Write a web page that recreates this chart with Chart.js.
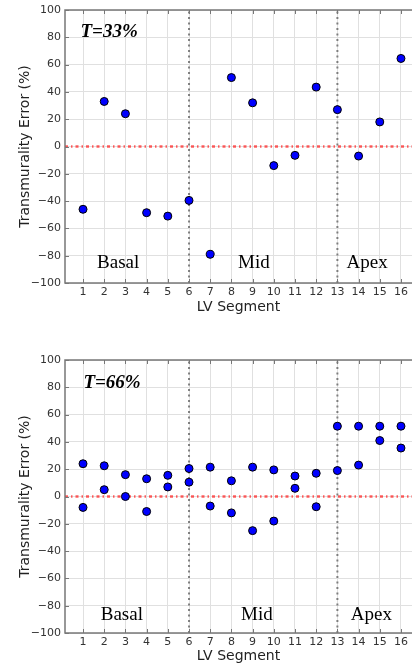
<!DOCTYPE html>
<html>
<head>
<meta charset="utf-8">
<script src="https://cdn.jsdelivr.net/npm/chart.js@4/dist/chart.umd.min.js"></script>
<style>
  body { margin: 0; background: #fff; }
  #c1 { position: absolute; left: 0; top: 0; }
  #c2 { position: absolute; left: 0; top: 350px; }
</style>
</head>
<body>
<canvas id="c1" width="412" height="320"></canvas>
<canvas id="c2" width="412" height="319"></canvas>
<script>
const segments = [1, 2, 3, 4, 5, 6, 7, 8, 9, 10, 11, 12, 13, 14, 15, 16];
const t33Err = [-46, 33, 24, -48.5, -51, -39.5, -79, 50.5, 32, -14, -6.5, 43.5, 27, -7, 18, 64.5];
const t66ErrA = [24, 22.5, 16, 13, 15.5, 20.5, 21.5, 11.5, 21.5, 19.5, 15, 17, 51.5, 51.5, 51.5, 51.5];
const t66ErrB = [-8, 5, 0, -11, 7, 10.5, -7, -12, -25, -18, 6, -7.5, 19, 23, 41, 35.5];
const yTicks = [-100, -80, -60, -40, -20, 0, 20, 40, 60, 80, 100];
const boundaries = [6, 13];
const regionNames = ["Basal", "Mid", "Apex"];

const X_MIN = 0.15, X_MAX = 16.52;
const sans = "'DejaVu Sans', sans-serif";

// frame, small inward ticks, region names and the T label
const overlay = {
  id: "overlay",
  afterDatasetsDraw(chart, args, opts) {
    const { ctx, chartArea: a, scales: { x, y } } = chart;
    ctx.save();
    ctx.strokeStyle = "#777";
    ctx.lineWidth = 1.5;
    ctx.strokeRect(a.left, a.top, a.right - a.left + 4, a.bottom - a.top);
    ctx.lineWidth = 1;
    ctx.beginPath();
    segments.forEach(s => {
      const px = Math.round(x.getPixelForValue(s)) + 0.5;
      ctx.moveTo(px, a.bottom); ctx.lineTo(px, a.bottom - 4);
      ctx.moveTo(px, a.top); ctx.lineTo(px, a.top + 4);
    });
    yTicks.forEach(v => {
      const py = Math.round(y.getPixelForValue(v)) + 0.5;
      ctx.moveTo(a.left, py); ctx.lineTo(a.left + 4, py);
    });
    ctx.stroke();
    ctx.fillStyle = "#000";
    ctx.textAlign = "center";
    ctx.textBaseline = "middle";
    ctx.font = "19px 'Liberation Serif', serif";
    opts.regions.forEach((r, i) => {
      ctx.fillText(regionNames[i], x.getPixelForValue(r[0]), y.getPixelForValue(r[1]));
    });
    ctx.font = "italic bold 19px 'Liberation Serif', serif";
    ctx.fillText(opts.title[0], x.getPixelForValue(opts.title[1]), y.getPixelForValue(opts.title[2]));
    ctx.restore();
  }
};

function makeChart(id, series, bottomH, overlayOpts) {
  const datasets = [];
  boundaries.forEach(b => datasets.push({
    type: "line",
    data: [{ x: b, y: -100 }, { x: b, y: 100 }],
    borderColor: "rgba(100,100,100,0.8)",
    borderWidth: 2,
    borderDash: [2, 3.5],
    pointRadius: 0,
    order: 2
  }));
  datasets.push({
    type: "line",
    data: [{ x: X_MIN, y: 0 }, { x: X_MAX, y: 0 }],
    borderColor: "rgba(255,40,40,0.75)",
    borderWidth: 2.5,
    borderDash: [3, 3, 1.5, 3],
    pointRadius: 0,
    order: 2
  });
  series.forEach(vals => datasets.push({
    type: "scatter",
    data: segments.map((s, i) => ({ x: s, y: vals[i] })),
    backgroundColor: "#0000ff",
    borderColor: "#000",
    borderWidth: 1,
    pointRadius: 4,
    order: 1
  }));

  return new Chart(document.getElementById(id), {
    type: "scatter",
    data: { datasets },
    options: {
      responsive: false,
      animation: false,
      devicePixelRatio: 1,
      layout: { autoPadding: false, padding: { top: 10, right: 0, left: 0, bottom: 0 } },
      plugins: { legend: { display: false }, tooltip: { enabled: false }, overlay: overlayOpts },
      scales: {
        x: {
          type: "linear",
          min: X_MIN,
          max: X_MAX,
          afterBuildTicks: s => { s.ticks = segments.map(v => ({ value: v })); },
          afterFit: s => { s.height = bottomH; s.paddingLeft = 0; s.paddingRight = 0; },
          grid: { color: "#e0e0e0", drawTicks: false, lineWidth: 1 },
          border: { display: false },
          ticks: { color: "#333", font: { family: sans, size: 11 }, padding: 3, maxRotation: 0, autoSkip: false },
          title: { display: true, text: "LV Segment", color: "#222", font: { family: sans, size: 14 }, padding: { top: 0, bottom: 4 } }
        },
        y: {
          min: -100,
          max: 100,
          afterBuildTicks: s => { s.ticks = yTicks.map(v => ({ value: v })); },
          afterFit: s => { s.width = 65; s.paddingTop = 0; s.paddingBottom = 0; },
          grid: { color: "#e0e0e0", drawTicks: false, lineWidth: 1 },
          border: { display: false },
          ticks: { color: "#333", font: { family: sans, size: 11 }, padding: 4,
                   callback: v => String(v).replace("-", "\u2212") },
          title: { display: true, text: "Transmurality Error (%)", color: "#222", font: { family: sans, size: 14 }, padding: { top: 17, bottom: 0 } }
        }
      }
    },
    plugins: [overlay]
  });
}

makeChart("c1", [t33Err], 37, {
  regions: [[2.66, -85.5], [9.06, -85.5], [14.4, -85.5]],
  title: ["T=33%", 2.23, 84]
});
makeChart("c2", [t66ErrA, t66ErrB], 36, {
  regions: [[2.83, -86.5], [9.2, -86.5], [14.6, -86.5]],
  title: ["T=66%", 2.37, 83]
});
</script>
</body>
</html>
